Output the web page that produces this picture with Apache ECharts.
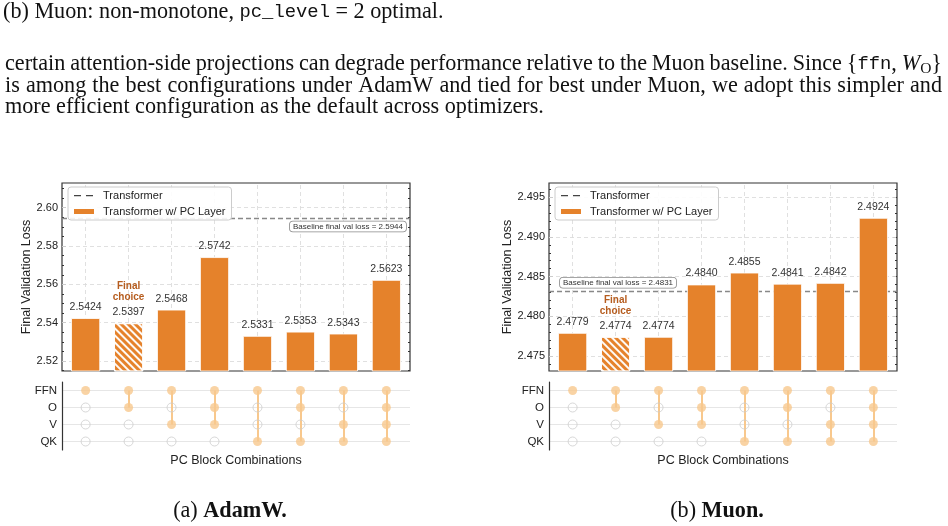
<!DOCTYPE html>
<html>
<head>
<meta charset="utf-8">
<title>PC block combinations</title>
<script src="https://cdn.jsdelivr.net/npm/echarts@6/dist/echarts.min.js"></script>
<style>
html, body { margin: 0; padding: 0; background: #fff; }
#main { width: 948px; height: 526px; }
</style>
</head>
<body>
<div id="main"></div>
<script>
// ---- data ----
var combos = ['FFN', 'FFN+O', 'FFN+V', 'FFN+O+V', 'FFN+QK', 'FFN+O+QK', 'FFN+V+QK', 'FFN+O+V+QK'];
var blocks = ['QK', 'V', 'O', 'FFN'];   // bottom -> top
var comboBlocks = [
	['FFN'], ['FFN', 'O'], ['FFN', 'V'], ['FFN', 'O', 'V'],
	['FFN', 'QK'], ['FFN', 'O', 'QK'], ['FFN', 'V', 'QK'], ['FFN', 'O', 'V', 'QK']
];
var adamwLoss = [2.5424, 2.5397, 2.5468, 2.5742, 2.5331, 2.5353, 2.5343, 2.5623];
var adamwBaseline = 2.5944;
var adamwTicks = [2.52, 2.54, 2.56, 2.58, 2.60];
var muonLoss = [2.4779, 2.4774, 2.4774, 2.4840, 2.4855, 2.4841, 2.4842, 2.4924];
var muonBaseline = 2.4831;
var muonTicks = [2.475, 2.480, 2.485, 2.490, 2.495];
var finalChoice = 1;

var sans = '"Liberation Sans", Arial, sans-serif';
var barColor = '#e5822b';
var dotColor = '#f8c88d';
// legend glyph for the dashed baseline: two short dashes in a 22x7 box
var dashIcon = 'path://M0,0 M22,7 M1,3 L8,3 L8,4.3 L1,4.3 Z M13,3 L20,3 L20,4.3 L13,4.3 Z';

function minorTicks(min, max, step) {
	var out = [];
	for (var k = Math.ceil(min / step); k * step <= max + 1e-9; k++) out.push(+(k * step).toFixed(6));
	return out;
}

var grids = [], xAxes = [], yAxes = [], series = [], legends = [];

function addPanel(p) {
	var g = grids.length;
	grids.push({ left: p.left, top: 183, width: 348, height: 188, show: true, borderColor: '#333', borderWidth: 1.2, outerBoundsMode: 'none' });
	grids.push({ left: p.left, top: 382, width: 348, height: 68, outerBoundsMode: 'none' });

	var xb = xAxes.length;
	xAxes.push({ gridIndex: g, type: 'value', min: -0.55, max: 7.55, axisLine: { show: false, onZero: false }, axisTick: { show: false }, axisLabel: { show: false }, splitLine: { show: false } });
	var xm = xAxes.length;
	xAxes.push({ gridIndex: g + 1, type: 'value', min: -0.55, max: 7.55, axisLine: { onZero: false, lineStyle: { color: '#333', width: 1.2 } },
		axisTick: { show: false }, axisLabel: { show: false }, splitLine: { show: false },
		name: 'PC Block Combinations', nameLocation: 'middle', nameGap: 4,
		nameTextStyle: { fontSize: 12.5, color: '#222', verticalAlign: 'top', fontFamily: sans } });

	var minor = minorTicks(p.min, p.max, p.minorStep);
	function valueAxis(extra) {
		var a = { gridIndex: g, type: 'value', min: p.min, max: p.max, splitLine: { show: false },
			axisLine: { show: false, onZero: false }, axisLabel: { show: false } };
		for (var k in extra) a[k] = extra[k];
		return a;
	}
	var yb = yAxes.length;
	yAxes.push(valueAxis({ position: 'left',
		name: 'Final Validation Loss', nameLocation: 'middle', nameGap: p.nameGap,
		nameTextStyle: { fontSize: 12.5, color: '#222', fontFamily: sans },
		axisTick: { inside: true, length: 4, customValues: p.ticks, lineStyle: { color: '#333' } },
		axisLabel: { customValues: p.ticks, formatter: function (v) { return v.toFixed(p.dec); }, fontSize: 11, color: '#222', margin: 4, fontFamily: sans } }));
	yAxes.push(valueAxis({ position: 'left', axisTick: { inside: true, length: 2, customValues: minor, lineStyle: { color: '#333' } } }));
	yAxes.push(valueAxis({ position: 'right', axisTick: { inside: true, length: 4, customValues: p.ticks, lineStyle: { color: '#333' } } }));
	yAxes.push(valueAxis({ position: 'right', axisTick: { inside: true, length: 2, customValues: minor, lineStyle: { color: '#333' } } }));
	var ym = yAxes.length;
	yAxes.push({ gridIndex: g + 1, type: 'category', data: blocks, position: 'left',
		axisLine: { onZero: false, lineStyle: { color: '#333', width: 1.2 } },
		axisTick: { alignWithLabel: true, length: 4, lineStyle: { color: '#333' } },
		axisLabel: { fontSize: 11.5, color: '#222', margin: 5, fontFamily: sans }, splitLine: { show: false } });

	// dashed grid lines (behind the bars)
	var gridLines = p.ticks.map(function (v) { return { yAxis: v }; })
		.concat(combos.map(function (c, i) { return { xAxis: i }; }));
	series.push({ type: 'line', xAxisIndex: xb, yAxisIndex: yb, data: [], z: 1, silent: true,
		markLine: { z: 1, silent: true, precision: 4, symbol: ['none', 'none'], label: { show: false },
			lineStyle: { color: '#dcdcdc', type: [4, 3], width: 0.9 }, data: gridLines } });

	// baseline
	series.push({ name: 'Transformer', type: 'line', xAxisIndex: xb, yAxisIndex: yb, data: [], z: 1,
		symbol: 'none', showSymbol: false,
		color: '#555', lineStyle: { color: '#555', type: [5, 3], width: 1.2 },
		markLine: { z: 1, silent: true, precision: 4, symbol: ['none', 'none'],
			lineStyle: { color: '#888', type: [5, 3], width: 1.3 },
			label: { show: true, position: p.baseLabelPos, distance: p.baseLabelDist,
				formatter: 'Baseline final val loss = ' + p.baseline.toFixed(4),
				fontSize: 8, color: '#333', fontFamily: sans, backgroundColor: '#fff',
				borderColor: '#888', borderWidth: 0.8, borderRadius: 3, padding: [1, 3, 1, 3] },
			data: [{ yAxis: p.baseline }] } });

	// bars
	series.push({ name: 'Transformer w/ PC Layer', type: 'bar', xAxisIndex: xb, yAxisIndex: yb, z: 2, barWidth: 29,
		color: barColor,
		itemStyle: { color: barColor, borderColor: '#fff', borderWidth: 0.8 },
		data: p.loss.map(function (v, i) {
			var d = { value: [i, v] };
			if (i === finalChoice) {
				d.itemStyle = { decal: { symbol: 'rect', symbolSize: 1, dashArrayX: [1, 0], dashArrayY: [2, 3],
					rotation: Math.PI / 4, color: 'rgba(255,255,255,0.95)' } };
				d.label = { distance: 1.5 };
			}
			return d;
		}),
		label: { show: true, position: 'top', distance: 5, fontSize: 10.5, color: '#333', fontFamily: sans, lineHeight: 12,
			formatter: function (prm) {
				var s = prm.value[1].toFixed(4);
				if (prm.dataIndex === finalChoice) return '{fc|Final}\n{fc|choice}\n{v|' + s + '}';
				return s;
			},
			rich: {
				fc: { fontSize: 10, fontWeight: 'bold', color: '#b65d1f', lineHeight: 11, fontFamily: sans },
				v: { fontSize: 10.5, color: '#333', lineHeight: 19, fontFamily: sans }
			} } });

	// matrix rows
	series.push({ type: 'line', xAxisIndex: xm, yAxisIndex: ym, data: [], z: 0, silent: true,
		markLine: { z: 0, silent: true, symbol: ['none', 'none'], label: { show: false },
			lineStyle: { color: '#e6e6e6', type: 'solid', width: 1.2 },
			data: blocks.map(function (b, i) { return { yAxis: i }; }) } });

	var on = [], off = [], links = [];
	comboBlocks.forEach(function (set, i) {
		var rows = [];
		blocks.forEach(function (b, r) {
			if (set.indexOf(b) >= 0) { on.push([i, r]); rows.push(r); } else off.push([i, r]);
		});
		if (rows.length > 1) links.push({ coords: [[i, Math.min.apply(null, rows)], [i, Math.max.apply(null, rows)]] });
	});
	series.push({ type: 'lines', coordinateSystem: 'cartesian2d', xAxisIndex: xm, yAxisIndex: ym, z: 1, silent: true,
		lineStyle: { color: dotColor, width: 2, opacity: 1 }, data: links });
	series.push({ type: 'scatter', xAxisIndex: xm, yAxisIndex: ym, z: 3, silent: true, symbolSize: 9,
		itemStyle: { color: 'rgba(255,255,255,0)', borderColor: '#cdcdcd', borderWidth: 1 }, data: off });
	series.push({ type: 'scatter', xAxisIndex: xm, yAxisIndex: ym, z: 3, silent: true, symbolSize: 9,
		itemStyle: { color: dotColor }, data: on });

	legends.push({ left: p.left + 6, top: 187, orient: 'vertical', itemWidth: 22, itemHeight: 7, itemGap: 5,
		padding: [3, 6, 3, 4], backgroundColor: 'rgba(255,255,255,0.9)', borderColor: '#ccc', borderWidth: 1, borderRadius: 3,
		textStyle: { fontSize: 11, color: '#222', fontFamily: sans },
		formatter: function (n) { return ' ' + n; },
		data: [{ name: 'Transformer', icon: dashIcon, itemStyle: { color: '#444', borderWidth: 0 } },
			{ name: 'Transformer w/ PC Layer', icon: 'rect' }] });
}

addPanel({ left: 62, loss: adamwLoss, baseline: adamwBaseline, ticks: adamwTicks, min: 2.5148, max: 2.6129,
	minorStep: 0.005, dec: 2, nameGap: 29, baseLabelPos: 'insideEndBottom', baseLabelDist: [4, 3] });
addPanel({ left: 549, loss: muonLoss, baseline: muonBaseline, ticks: muonTicks, min: 2.4731, max: 2.4968,
	minorStep: 0.001, dec: 3, nameGap: 35, baseLabelPos: 'insideStartTop', baseLabelDist: [11, 4] });

// ---- page text (paper paragraph and sub-captions) ----
var serifFamily = '"Liberation Serif", "DejaVu Serif", serif';
var monoFamily = '"Liberation Mono", "DejaVu Sans Mono", monospace';
var segStyles = {
	n: {}, m: { family: monoFamily, scale: 0.85 }, i: { style: 'italic' },
	b: { weight: 'bold' }, s: { scale: 0.7, dy: 4 }
};
var textLines = [
	{ y: 12, x: 3, text: '(b) Muon: non-monotone, [m:pc_level] = 2 optimal.' },
	{ y: 64, x: 5, width: 937, text: 'certain attention-side projections can degrade performance relative to the Muon baseline. Since {[m:ffn], [i:W][s:O]}' },
	{ y: 86, x: 5, width: 937, text: 'is among the best configurations under AdamW and tied for best under Muon, we adopt this simpler and' },
	{ y: 107, x: 5, text: 'more efficient configuration as the default across optimizers.' },
	{ y: 511, cx: 230, text: '(a) [b:AdamW.]' },
	{ y: 511, cx: 717, text: '(b) [b:Muon.]' }
];
var ctx = document.createElement('canvas').getContext('2d');
function parseWord(w) {
	var out = [], re = /\[(\w):([^\]]*)\]|[^\[]+/g, m;
	while ((m = re.exec(w))) out.push(m[1] ? { k: m[1], t: m[2] } : { k: 'n', t: m[0] });
	return out;
}
function segSpec(seg, S) {
	var st = segStyles[seg.k];
	return { family: st.family || serifFamily, size: S * (st.scale || 1), style: st.style || 'normal', weight: st.weight || 'normal', dy: (st.dy || 0) * S / 18 };
}
function segWidth(seg, S) {
	var sp = segSpec(seg, S);
	ctx.font = sp.style + ' ' + sp.weight + ' ' + sp.size + 'px ' + sp.family;
	return ctx.measureText(seg.t).width;
}
function wordWidth(segs, S) { return segs.reduce(function (a, s) { return a + segWidth(s, S); }, 0); }
function naturalWidth(line, S) {
	var words = line.text.split(' ').map(parseWord);
	return words.reduce(function (a, w) { return a + wordWidth(w, S); }, 0) + (words.length - 1) * segWidth({ k: 'n', t: ' ' }, S);
}
// body size: the justified second line needs only a little stretching
var bodySize = 100 * 928 / naturalWidth(textLines[2], 100);

var graphics = [];
textLines.forEach(function (line) {
	var S = bodySize;
	var words = line.text.split(' ').map(parseWord);
	var ws = words.map(function (w) { return wordWidth(w, S); });
	var sum = ws.reduce(function (a, b) { return a + b; }, 0);
	var gap = line.width ? (line.width - sum) / (words.length - 1) : segWidth({ k: 'n', t: ' ' }, S);
	var x = line.cx != null ? line.cx - (sum + gap * (words.length - 1)) / 2 : line.x;
	words.forEach(function (w) {
		w.forEach(function (seg) {
			var sp = segSpec(seg, S);
			graphics.push({ type: 'text', x: x, y: line.y + sp.dy, silent: true,
				style: { text: seg.t, fill: '#111', fontFamily: sp.family, fontSize: sp.size, fontStyle: sp.style, fontWeight: sp.weight, verticalAlign: 'middle', align: 'left' } });
			x += segWidth(seg, S);
		});
		x += gap;
	});
});

var chart = echarts.init(document.getElementById('main'));
chart.setOption({
	animation: false,
	textStyle: { fontFamily: sans },
	grid: grids,
	xAxis: xAxes,
	yAxis: yAxes,
	legend: legends,
	series: series,
	graphic: graphics
});
</script>
</body>
</html>
